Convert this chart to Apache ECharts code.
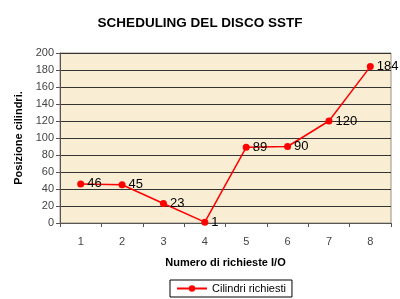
<!DOCTYPE html>
<html><head><meta charset="utf-8">
<script src="https://cdn.jsdelivr.net/npm/echarts@6/dist/echarts.min.js"></script>
<style>html,body{margin:0;padding:0;background:#fff}#c{width:400px;height:299px}</style>
</head><body><div id="c"></div>
<script>
var categories = ['1','2','3','4','5','6','7','8'];
var values = [46,45,23,1,89,90,120,184];
var seriesName = 'Cilindri richiesti';
var chart = echarts.init(document.getElementById('c'), null, {renderer:'canvas'});
chart.setOption({
  animation:false,
  backgroundColor:'#fff',
  title:{text:'SCHEDULING DEL DISCO SSTF',left:'center',top:11,textStyle:{fontFamily:'Liberation Sans, Arial',fontSize:13.5,fontWeight:'bold',color:'#000'}},
  grid:{left:60,right:9,top:53,bottom:76,show:true,backgroundColor:'#f9edd3',borderColor:'#9a9080',borderWidth:1},
  legend:{data:[seriesName],bottom:2,left:170,itemWidth:30,itemHeight:8,padding:[3,6,3,6],borderColor:'#000',borderWidth:1,textStyle:{fontFamily:'Liberation Sans, Arial',fontSize:11,color:'#000'}},
  xAxis:{type:'category',data:categories,boundaryGap:true,name:'Numero di richieste I/O',nameLocation:'middle',nameGap:34,
    nameTextStyle:{fontFamily:'Liberation Sans, Arial',fontSize:11,fontWeight:'bold',color:'#000'},
    axisLine:{lineStyle:{color:'#555'}},axisTick:{show:true,length:4,lineStyle:{color:'#555'}},
    axisLabel:{margin:13,fontFamily:'Liberation Sans, Arial',fontSize:11,color:'#444'}},
  yAxis:{type:'value',min:0,max:200,interval:20,name:'Posizione cilindri.',nameLocation:'middle',nameGap:36,
    nameTextStyle:{fontFamily:'Liberation Sans, Arial',fontSize:11,fontWeight:'bold',color:'#000'},
    axisLine:{show:true,lineStyle:{color:'#555'}},axisTick:{show:true,length:4,lineStyle:{color:'#555'}},
    axisLabel:{margin:6,fontFamily:'Liberation Sans, Arial',fontSize:11,color:'#444'},
    splitLine:{lineStyle:{color:'#333',width:1}}},
  series:[{name:seriesName,type:'line',data:values,symbol:'circle',symbolSize:7,
    itemStyle:{color:'#ff0000'},lineStyle:{color:'#ff0000',width:1.5},
    label:{show:true,position:'right',distance:3,fontFamily:'Liberation Sans, Arial',fontSize:13,color:'#000'}}]
});
</script></body></html>
